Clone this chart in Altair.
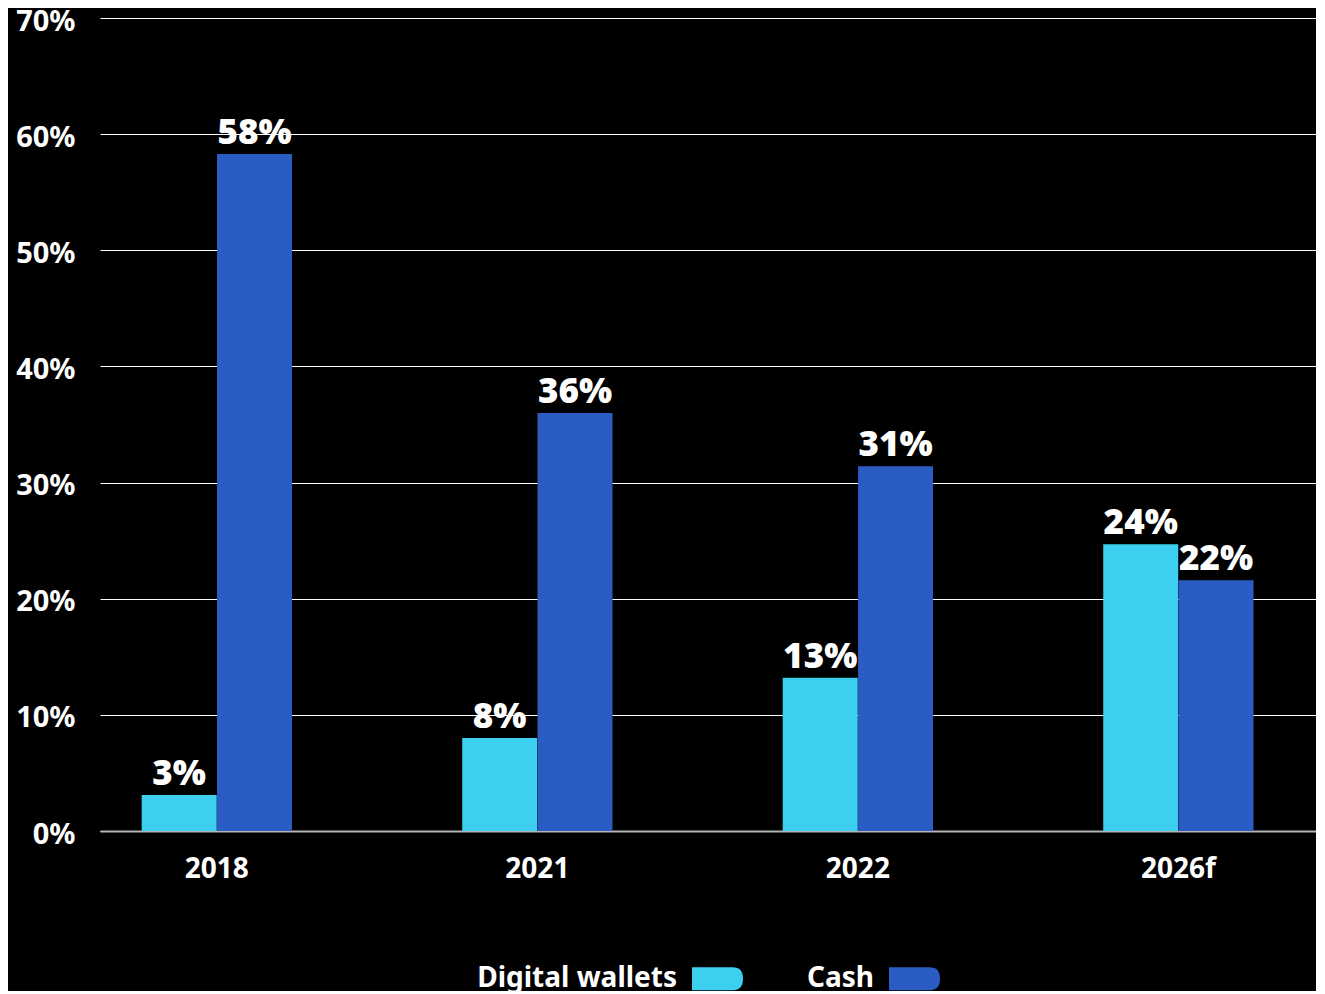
import altair as alt
import pandas as pd

years = ["2018", "2021", "2022", "2026f"]
series = ["Digital wallets", "Cash"]
digital = [3.1, 8.0, 13.2, 24.7]
cash = [58.3, 36.0, 31.4, 21.6]
digital_labels = ["3%", "8%", "13%", "24%"]
cash_labels = ["58%", "36%", "31%", "22%"]
colors = ["#3ccfef", "#2a5cc4"]

rows = []
for i, y in enumerate(years):
    rows.append({"year": y, "series": series[0], "value": digital[i], "label": digital_labels[i]})
    rows.append({"year": y, "series": series[1], "value": cash[i], "label": cash_labels[i]})
df = pd.DataFrame(rows)

FONT = "Noto Sans"
pill = "M -1 -0.45 H 0.6 Q 1 -0.45 1 0 Q 1 0.45 0.6 0.45 H -1 Z"

x = alt.X("year:N", sort=years, title=None,
          scale=alt.Scale(paddingInner=0.53, paddingOuter=0.162, align=0.40),
          axis=alt.Axis(labelAngle=0, labelFont=FONT, labelFontSize=28, labelFontWeight="bold",
                        labelColor="white", labelPadding=24, ticks=False, domain=True,
                        domainColor="#b4b4b4", domainWidth=2, grid=False))
xo = alt.XOffset("series:N", sort=series, scale=alt.Scale(domain=series, paddingInner=0, paddingOuter=0))

y = alt.Y("value:Q", title=None,
          scale=alt.Scale(domain=[0, 70], nice=False),
          axis=alt.Axis(values=[0, 10, 20, 30, 40, 50, 60, 70], labelExpr="datum.value + '%'",
                        labelFont=FONT, labelFontSize=29, labelFontWeight="bold", labelColor="white",
                        labelPadding=25, labelOffset=3, ticks=False, domain=False, grid=True,
                        gridColor="white", gridWidth=1.2))

color = alt.Color("series:N", sort=series,
                  scale=alt.Scale(domain=series, range=colors),
                  legend=alt.Legend(title=None, orient="none", direction="horizontal",
                                    legendX=592, legendY=935,
                                    symbolType=pill, symbolSize=2601, symbolStrokeWidth=0,
                                    symbolOpacity=1,
                                    labelFont=FONT, labelFontSize=28, labelFontWeight="bold",
                                    labelColor="white", labelAlign="right", labelLimit=500,
                                    labelOffset={"expr": "-66"},
                                    columnPadding=63))

bars = alt.Chart(df).mark_bar(size=75).encode(x=x, xOffset=xo, y=y, color=color)

labels = alt.Chart(df).mark_text(font=FONT, fontSize=35, fontWeight=900, color="white",
                                 baseline="alphabetic", dy=-10).encode(
    x=x, xOffset=xo, y=y, text="label:N")

chart = (bars + labels).properties(
    width=1216, height=813, background="black",
    autosize=alt.AutoSizeParams(type="none"),
    padding={"left": 92, "top": 10, "right": 0, "bottom": 160}
).configure_view(stroke=None)

chart.save("out.html", embed_options={"renderer": "svg", "actions": False})
